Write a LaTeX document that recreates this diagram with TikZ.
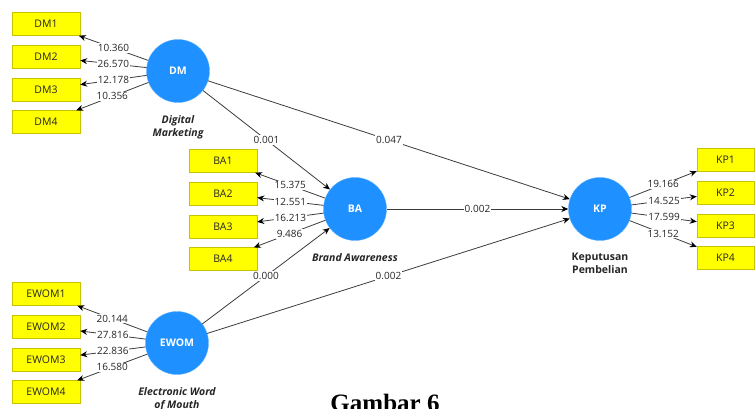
\documentclass[tikz,border=0pt]{standalone}
\usepackage{fontspec}
\setmainfont{Open Sans}
\newfontfamily\captionfont{Liberation Serif}
\usetikzlibrary{arrows.meta, positioning}
\definecolor{lvblue}{HTML}{1E90FF}
\definecolor{boxyellow}{HTML}{FFFF00}
\definecolor{boxedge}{HTML}{C8C200}
\definecolor{pathgray}{HTML}{3C3C3C}

\begin{document}
\begin{tikzpicture}[
        x=1pt, y=-1pt,
        node distance=9.3pt,
        every node/.style={font=\fontsize{10}{12}\selectfont},
        latent/.style={circle, fill=lvblue, draw=lvblue!70!white, minimum size=63pt, inner sep=0pt, text=white, font=\fontsize{10.5}{12}\selectfont\bfseries},
        ind/.style={draw=boxedge, fill=boxyellow, minimum width=68pt, minimum height=23pt, inner sep=0pt, text=black!85, font=\fontsize{10.5}{12}\selectfont},
        lvname/.style={align=center, font=\fontsize{10.5}{13}\selectfont\bfseries\itshape, text=black!85},
        coef/.style={fill=white, inner sep=1pt, text=black!85},
        arrowstyle/.style={-{Stealth[length=7pt, width=6pt, black]}, pathgray, line width=0.8pt}
    ]
        \useasboundingbox (0,0) rectangle (756,409);

        % latent variables
        \node[latent] (DM) at (178,71) {DM};
        \node[latent] (BA) at (355,209) {BA};
        \node[latent] (EWOM) at (177,343) {EWOM};
        \node[latent] (KP) at (600,209) {KP};

        \node[lvname, below=9pt of DM] (DMname) {Digital\\Marketing};
        \node[lvname, below=9pt of BA] (BAname) {Brand Awareness};
        \node[lvname, below=9pt of EWOM] (EWOMname) {Electronic Word\\of Mouth};
        \node[lvname, below=9pt of KP, font=\fontsize{10.5}{13}\selectfont\bfseries] (KPname) {Keputusan\\Pembelian};

        % indicators
        \node[ind] (DM1) at (46,24) {DM1};
        \node[ind, below=of DM1] (DM2) {DM2};
        \node[ind, below=of DM2] (DM3) {DM3};
        \node[ind, below=of DM3] (DM4) {DM4};

        \node[ind] (BA1) at (223,161) {BA1};
        \node[ind, below=of BA1] (BA2) {BA2};
        \node[ind, below=of BA2] (BA3) {BA3};
        \node[ind, below=of BA3] (BA4) {BA4};

        \node[ind] (EWOM1) at (46,294) {EWOM1};
        \node[ind, below=of EWOM1] (EWOM2) {EWOM2};
        \node[ind, below=of EWOM2] (EWOM3) {EWOM3};
        \node[ind, below=of EWOM3] (EWOM4) {EWOM4};

        \node[ind, minimum width=57pt] (KP1) at (725.5,160) {KP1};
        \node[ind, minimum width=57pt, below=of KP1] (KP2) {KP2};
        \node[ind, minimum width=57pt, below=of KP2] (KP3) {KP3};
        \node[ind, minimum width=57pt, below=of KP3] (KP4) {KP4};

        % outer loadings
        \draw[arrowstyle] (DM) -- node[coef] {10.360} (DM1);
        \draw[arrowstyle] (DM) -- node[coef] {26.570} (DM2);
        \draw[arrowstyle] (DM) -- node[coef] {12.178} (DM3);
        \draw[arrowstyle] (DM) -- node[coef] {10.356} (DM4);

        \draw[arrowstyle] (BA) -- node[coef] {15.375} (BA1);
        \draw[arrowstyle] (BA) -- node[coef] {12.551} (BA2);
        \draw[arrowstyle] (BA) -- node[coef] {16.213} (BA3);
        \draw[arrowstyle] (BA) -- node[coef] {9.486} (BA4);

        \draw[arrowstyle] (EWOM) -- node[coef] {20.144} (EWOM1);
        \draw[arrowstyle] (EWOM) -- node[coef] {27.816} (EWOM2);
        \draw[arrowstyle] (EWOM) -- node[coef] {22.836} (EWOM3);
        \draw[arrowstyle] (EWOM) -- node[coef] {16.580} (EWOM4);

        \draw[arrowstyle] (KP) -- node[coef] {19.166} (KP1);
        \draw[arrowstyle] (KP) -- node[coef] {14.525} (KP2);
        \draw[arrowstyle] (KP) -- node[coef] {17.599} (KP3);
        \draw[arrowstyle] (KP) -- node[coef] {13.152} (KP4);

        % inner model
        \draw[arrowstyle] (DM) -- node[coef] {0.001} (BA);
        \draw[arrowstyle] (DM) -- node[coef] {0.047} (KP);
        \draw[arrowstyle] (BA) -- node[coef] {0.002} (KP);
        \draw[arrowstyle] (EWOM) -- node[coef] {0.000} (BA);
        \draw[arrowstyle] (EWOM) -- node[coef] {0.002} (KP);

        \node[font=\captionfont\bfseries\fontsize{25}{30}\selectfont, anchor=base] (caption) at (385,411.5) {Gambar 6};
    \end{tikzpicture}
\end{document}
